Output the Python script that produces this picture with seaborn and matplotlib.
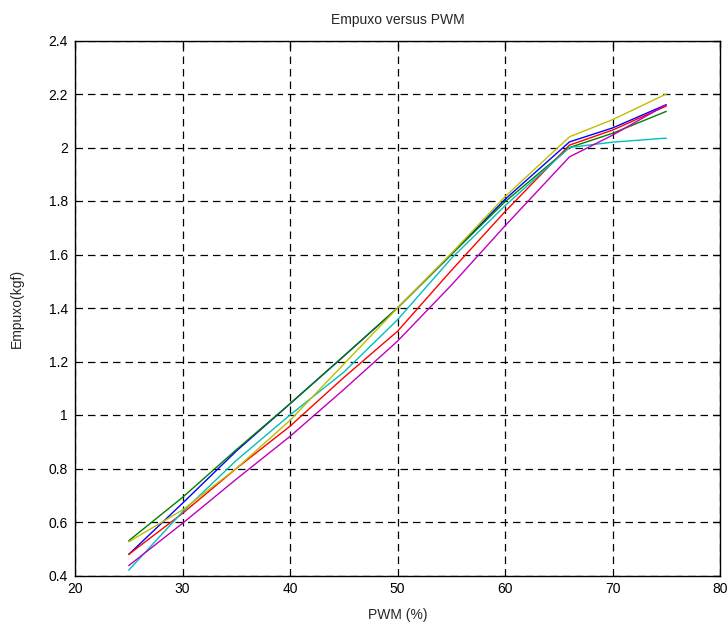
import pandas as pd
import matplotlib
matplotlib.use("Agg")
import matplotlib.pyplot as plt
import seaborn as sns

# PWM (%) sample points
pwm = [25, 30, 35, 40, 45, 50, 55, 60, 66, 70, 75]

# Thrust (kgf) per motor, in MATLAB plot order b, g, r, c, m, y
empuxo_b = [0.479, 0.670, 0.865, 1.042, 1.220, 1.400, 1.600, 1.806, 2.021, 2.073, 2.160]
empuxo_g = [0.530, 0.692, 0.870, 1.042, 1.220, 1.400, 1.600, 1.797, 2.000, 2.053, 2.135]
empuxo_r = [0.479, 0.632, 0.800, 0.958, 1.140, 1.313, 1.540, 1.760, 2.009, 2.065, 2.155]
empuxo_c = [0.420, 0.638, 0.830, 1.000, 1.160, 1.356, 1.585, 1.782, 2.000, 2.020, 2.035]
empuxo_m = [0.437, 0.595, 0.760, 0.920, 1.095, 1.276, 1.485, 1.707, 1.965, 2.046, 2.160]
empuxo_y = [0.526, 0.645, 0.800, 0.980, 1.190, 1.400, 1.604, 1.816, 2.040, 2.104, 2.200]

series = {"b": empuxo_b, "g": empuxo_g, "r": empuxo_r,
          "c": empuxo_c, "m": empuxo_m, "y": empuxo_y}
colors = {"b": (0, 0, 1), "g": (0, 0.5, 0), "r": (1, 0, 0),
          "c": (0, 0.75, 0.75), "m": (0.75, 0, 0.75), "y": (0.75, 0.75, 0)}

# Long table for seaborn
df = pd.concat([pd.DataFrame({"PWM": pwm, "Empuxo": v, "motor": k})
                for k, v in series.items()], ignore_index=True)

sns.set_style("white")
plt.rcParams["font.family"] = ["Liberation Sans", "DejaVu Sans"]
plt.rcParams["font.size"] = 10

fig = plt.figure(figsize=(7.28, 6.3), dpi=100)
ax = fig.add_axes([75 / 728, 1 - 575.5 / 630, 645 / 728, 535 / 630])

sns.lineplot(data=df, x="PWM", y="Empuxo", hue="motor", palette=colors,
             hue_order=list(series.keys()), legend=False, lw=1, ax=ax,
             estimator=None, sort=False)

ax.set_xlim(20, 80)
ax.set_ylim(0.4, 2.4)
ax.set_xticks([20, 30, 40, 50, 60, 70, 80])
ax.set_yticks([0.4, 0.6, 0.8, 1.0, 1.2, 1.4, 1.6, 1.8, 2.0, 2.2, 2.4])
ax.set_yticklabels(["0.4", "0.6", "0.8", "1", "1.2", "1.4", "1.6", "1.8", "2", "2.2", "2.4"])

ax.grid(True, color="black", linestyle=(0, (6, 4)), lw=0.9)
ax.set_axisbelow(True)
ax.tick_params(direction="in", length=5, width=0.9, colors="black",
               top=True, right=True, labelsize=10, pad=5)
for s in ax.spines.values():
    s.set_color("black")
    s.set_linewidth(1)

ax.set_title("Empuxo versus PWM", fontsize=10, pad=12)
ax.set_xlabel("PWM (%)", fontsize=10, labelpad=8)
ax.set_ylabel("Empuxo(kgf)", fontsize=10, labelpad=18)

fig.savefig("out.png", dpi=100)
